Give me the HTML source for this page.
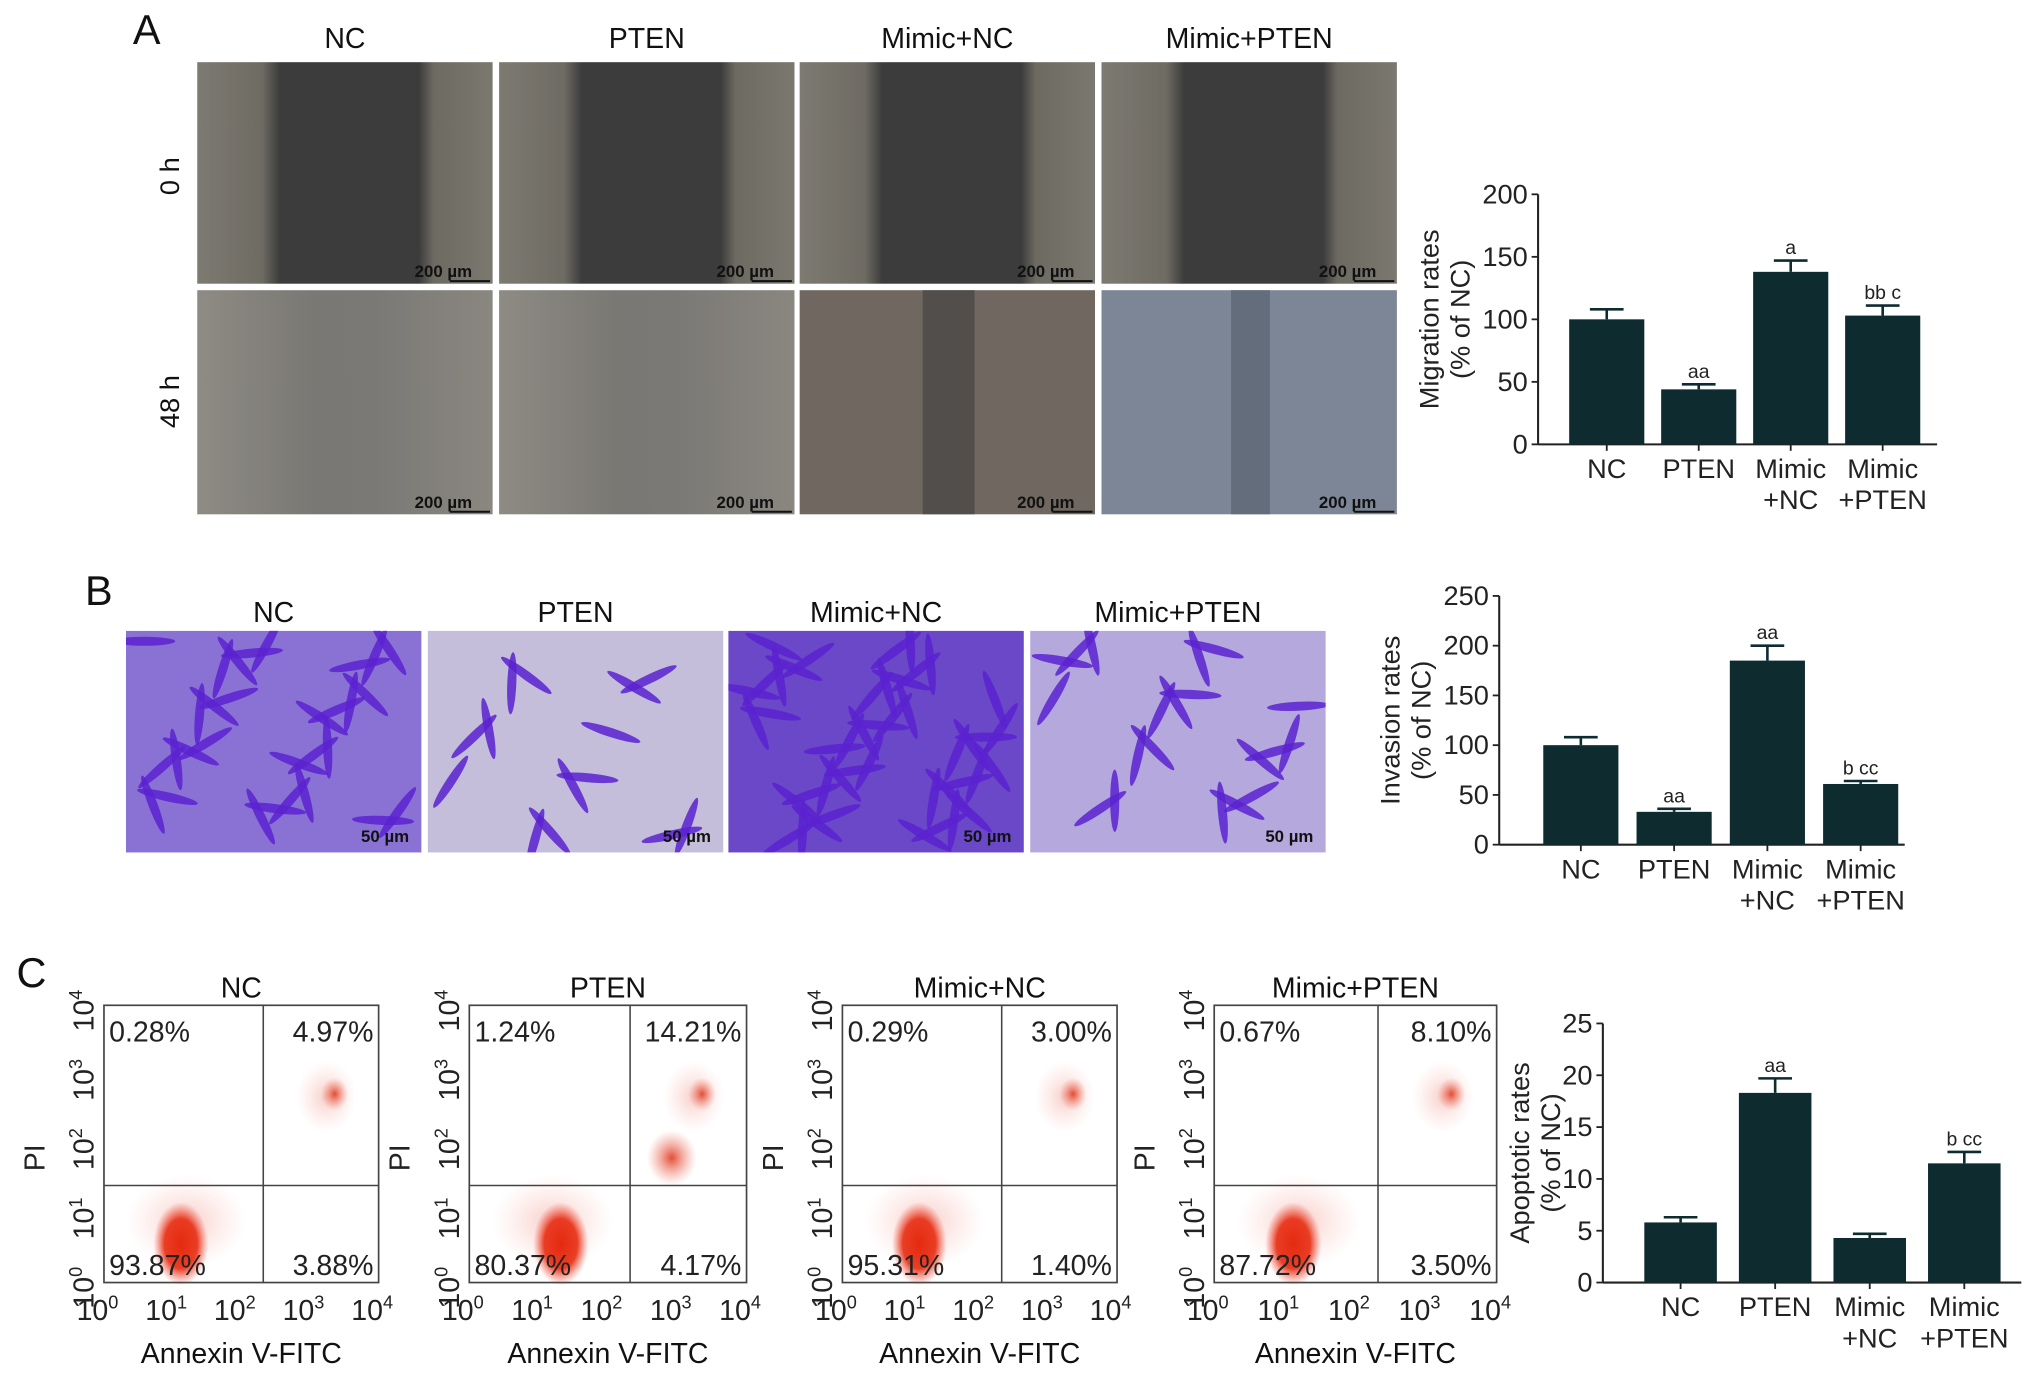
<!DOCTYPE html>
<html><head><meta charset="utf-8"><style>
html,body{margin:0;padding:0;background:#fff;}
svg{display:block;font-family:"Liberation Sans",Arial,sans-serif;}
</style></head><body>
<svg id="fig" width="2032" height="1381" viewBox="0 0 1568 1066" xmlns="http://www.w3.org/2000/svg">
<defs id="defs">
<linearGradient id="g0h" x1="0" x2="1" y1="0" y2="0">
<stop offset="0" stop-color="#7d7a72"/><stop offset="0.22" stop-color="#6e6b63"/><stop offset="0.28" stop-color="#3c3c3c"/><stop offset="0.75" stop-color="#3c3c3c"/><stop offset="0.8" stop-color="#6d6a62"/><stop offset="1" stop-color="#7b786f"/></linearGradient>
<linearGradient id="g48" x1="0" x2="1" y1="0" y2="0">
<stop offset="0" stop-color="#8e8b84"/><stop offset="0.4" stop-color="#7a7874"/><stop offset="0.6" stop-color="#7b7976"/><stop offset="1" stop-color="#8a8780"/></linearGradient>
<radialGradient id="clu" cx="0.5" cy="0.5" r="0.5"><stop offset="0" stop-color="#e42a10"/><stop offset="0.6" stop-color="#e8341a" stop-opacity="0.95"/><stop offset="1" stop-color="#f06050" stop-opacity="0"/></radialGradient>
<radialGradient id="clu2" cx="0.5" cy="0.5" r="0.5"><stop offset="0" stop-color="#e03a20" stop-opacity="0.9"/><stop offset="1" stop-color="#f08070" stop-opacity="0"/></radialGradient>
<radialGradient id="haze" cx="0.5" cy="0.5" r="0.5"><stop offset="0" stop-color="#f09a90" stop-opacity="0.5"/><stop offset="1" stop-color="#f8c0b8" stop-opacity="0"/></radialGradient>
</defs>
<g id="panelA"></g>
<g id="panelB"></g>
<g id="panelC"></g>
</svg>
<script>
const NS="http://www.w3.org/2000/svg";
const groups=["NC","PTEN","Mimic+NC","Mimic+PTEN"];
const catLine1=["NC","PTEN","Mimic","Mimic"];
const catLine2=["","","+NC","+PTEN"];
// Migration (A)
const migValues=[100,44,138,103];
const migErr=[8,4,9,8];
const migSig=["","aa","a","bb c"];
const migTicks=[0,50,100,150,200];
// Invasion (B)
const invValues=[100,33,185,61];
const invErr=[8,3,15,3];
const invSig=["","aa","aa","b cc"];
const invTicks=[0,50,100,150,200,250];
// Apoptosis (C)
const apoValues=[5.8,18.3,4.3,11.5];
const apoErr=[0.5,1.4,0.4,1.1];
const apoSig=["","aa","","b cc"];
const apoTicks=[0,5,10,15,20,25];
// Flow quadrant percentages [UL,UR,LL,LR]
const flowUL=["0.28%","1.24%","0.29%","0.67%"];
const flowUR=["4.97%","14.21%","3.00%","8.10%"];
const flowLL=["93.87%","80.37%","95.31%","87.72%"];
const flowLR=["3.88%","4.17%","1.40%","3.50%"];

function el(tag,attrs,parent,text){const e=document.createElementNS(NS,tag);for(const k in attrs)e.setAttribute(k,attrs[k]);if(text!==undefined)e.textContent=text;parent.appendChild(e);return e;}

function barChart(parent,name,o){
  const g=el("g",{},parent);
  
  
  const max=o.ticks[o.ticks.length-1];
  const y=v=>o.y0-(v/max)*(o.y0-o.yTop);
  const x=i=>o.x0+o.first+i*o.step;
  el("line",{x1:o.x0,y1:o.yTop,x2:o.x0,y2:o.y0,stroke:"#222","stroke-width":1.6},g);
  el("line",{x1:o.x0,y1:o.y0,x2:o.x1,y2:o.y0,stroke:"#222","stroke-width":1.6},g);
  o.ticks.forEach(t=>{
    const l=el("line",{x1:o.x0-5,y1:y(t),x2:o.x0,y2:y(t),stroke:"#222","stroke-width":1.4},g);
    
    const tx=el("text",{x:o.x0-8,y:y(t)+7,"text-anchor":"end","font-size":21,fill:"#222"},g,String(t));
    
    
  });
  o.values.forEach((v,i)=>{
    const cx=x(i);
    const r=el("rect",{x:cx-o.bw/2,y:y(v),width:o.bw,height:o.y0-y(v),fill:"#0e2b30"},g);
    
    
    const ey=y(v+o.err[i]);
    el("line",{x1:cx,y1:y(v),x2:cx,y2:ey,stroke:"#0e2b30","stroke-width":2},g);
    el("line",{x1:cx-13,y1:ey,x2:cx+13,y2:ey,stroke:"#0e2b30","stroke-width":2},g);
    if(o.sig[i]){const s=el("text",{x:cx,y:ey-5,"text-anchor":"middle","font-size":15,fill:"#222"},g,o.sig[i]);}
    el("line",{x1:cx,y1:o.y0,x2:cx,y2:o.y0+5,stroke:"#222","stroke-width":1.4},g);
    const t1=el("text",{x:cx,y:o.y0+26,"text-anchor":"middle","font-size":21,fill:"#222"},g,catLine1[i]);
    
    
    if(catLine2[i]){const t2=el("text",{x:cx,y:o.y0+50,"text-anchor":"middle","font-size":21,fill:"#222"},g,catLine2[i]);}
  });
  const my=(o.y0+o.yTop)/2;
  const a=el("text",{x:o.titleX,y:my,"text-anchor":"middle","font-size":21,fill:"#222",transform:`rotate(-90 ${o.titleX} ${my})`},g,o.title);
  
  
  const b=el("text",{x:o.titleX+24,y:my,"text-anchor":"middle","font-size":21,fill:"#222",transform:`rotate(-90 ${o.titleX+24} ${my})`},g,"(% of NC)");
  
  
}

function label(parent,x,y,txt,size,name){const t=el("text",{x:x,y:y,"text-anchor":"middle","font-size":size,fill:"#111"},parent,txt);return t;}
function frac(v){return v-Math.floor(v);}

// Panel A
const A=document.getElementById("panelA");
label(A,113,34,"A",32,"panel-label-a");
const aX=[152,385,617,850];
groups.forEach((gname,i)=>{
  label(A,aX[i]+114,37,gname,22,"column-title");
  const r1=el("rect",{x:aX[i],y:48,width:228,height:171,fill:"url(#g0h)"},A);
  
  
  const r2=el("rect",{x:aX[i],y:224,width:228,height:173,fill:i==3?"#7c8696":(i==2?"#6f6760":"url(#g48)")},A);
  
  
  if(i>=2){const gap=el("rect",{x:aX[i]+(i==2?95:100),y:224,width:i==2?40:30,height:173,fill:i==2?"#4a4846":"#5c6676",opacity:0.8},A);}
  [48,224].forEach(yy=>{label(A,aX[i]+190,yy+(yy==48?166:168),"200 µm",13,"scale-bar-label").setAttribute('font-weight','bold');
   el("line",{x1:aX[i]+195,y1:yy+(yy==48?169:171),x2:aX[i]+226,y2:yy+(yy==48?169:171),stroke:"#111","stroke-width":1.5},A);});
});
[[136,"0 h"],[310,"48 h"]].forEach(([yy,t])=>{const tt=el("text",{x:138,y:yy,"text-anchor":"middle","font-size":21,fill:"#111",transform:`rotate(-90 138 ${yy})`},A,t);});
barChart(A,"migration-chart",{x0:1187,x1:1495,y0:343,yTop:150,first:53,step:71,bw:58,values:migValues,err:migErr,sig:migSig,ticks:migTicks,title:"Migration rates",titleX:1110});

// Panel B
const B=document.getElementById("panelB");
const defs=document.getElementById("defs");
label(B,76,467,"B",32,"panel-label-b");
const bX=[97,330,562,795];
const bFill=["#8a72d4","#c4bedb","#6a48c8","#b4a8dc"];
const streak=[30,14,45,20];
groups.forEach((gname,i)=>{
  label(B,bX[i]+114,480,gname,22,"column-title");
  const cp=el("clipPath",{id:"clipB"+i},defs);
  el("rect",{x:bX[i],y:487,width:228,height:171},cp);
  const r=el("rect",{x:bX[i],y:487,width:228,height:171,fill:bFill[i]},B);
  
  
  const sg=el("g",{"clip-path":`url(#clipB${i})`},B);
  
  for(let k=0;k<streak[i];k++){
    const px=bX[i]+14+frac(k*0.618+i*0.31)*200, py=495+frac(k*0.7549+i*0.17)*155, ang=frac(k*0.4142+i*0.2)*180;
    const s=el("ellipse",{cx:px,cy:py,rx:24,ry:3.5,fill:"#5a22d0",opacity:0.85,transform:`rotate(${ang} ${px} ${py})`},sg);
    
  }
  label(B,bX[i]+200,650,"50 µm",13,"scale-bar-label").setAttribute('font-weight','bold');
});
barChart(B,"invasion-chart",{x0:1157,x1:1470,y0:652,yTop:460,first:63,step:72,bw:58,values:invValues,err:invErr,sig:invSig,ticks:invTicks,title:"Invasion rates",titleX:1080});

// Panel C
const C=document.getElementById("panelC");
label(C,24,762,"C",32,"panel-label-c");
const cX=[80,362,650,937];
const cW=[212,214,212,218];
const supers=["0","1","2","3","4"];
groups.forEach((gname,i)=>{
  const x0=cX[i],w=cW[i],y0=776,h=214;
  const g=el("g",{},C);
  
  
  label(g,x0+w/2,770,gname,22,"plot-title");
  const qx=x0+w*0.58, qy=y0+h*0.65;
  el("ellipse",{cx:x0+w*0.3,cy:y0+h*0.78,rx:w*0.22,ry:h*0.17,fill:"url(#haze)"},g);
  el("ellipse",{cx:x0+w*(i==1?0.33:0.28),cy:y0+h*0.86,rx:w*0.1,ry:h*0.15,fill:"url(#clu)"},g);
  el("ellipse",{cx:x0+w*0.81,cy:y0+h*0.33,rx:w*0.11,ry:h*0.13,fill:"url(#haze)"},g);
  el("ellipse",{cx:x0+w*0.84,cy:y0+h*0.32,rx:w*0.05,ry:h*0.06,fill:"url(#clu2)"},g);
  if(i==1){el("ellipse",{cx:x0+w*0.73,cy:y0+h*0.55,rx:w*0.09,ry:h*0.1,fill:"url(#clu2)"},g);}
  el("rect",{x:x0,y:y0,width:w,height:h,fill:"none",stroke:"#444","stroke-width":1.3},g);
  el("line",{x1:qx,y1:y0,x2:qx,y2:y0+h,stroke:"#444","stroke-width":1.2},g);
  el("line",{x1:x0,y1:qy,x2:x0+w,y2:qy,stroke:"#444","stroke-width":1.2},g);
  const q=[[x0+4,y0+28,"start",flowUL[i]],[x0+w-4,y0+28,"end",flowUR[i]],[x0+4,y0+h-6,"start",flowLL[i]],[x0+w-4,y0+h-6,"end",flowLR[i]]];
  q.forEach(([xx,yy,an,t])=>{const tt=el("text",{x:xx,y:yy,"text-anchor":an,"font-size":22,fill:"#222"},g,t);});
  for(let k=0;k<5;k++){
    const tx=x0+k*w/4;
    const t=el("text",{x:tx-5,y:y0+h+29,"text-anchor":"middle","font-size":22,fill:"#222"},g);
    
    
    t.textContent="10";el("tspan",{dy:-9,"font-size":14},t,supers[k]);
    const ty=y0+h-k*h/4;
    const yt=el("text",{x:0,y:0,"text-anchor":"middle","font-size":22,fill:"#222",transform:`translate(${x0-8} ${ty+4}) rotate(-90)`},g);
    
    
    yt.textContent="10";el("tspan",{dy:-9,"font-size":14},yt,supers[k]);
  }
  label(g,x0+w/2,y0+h+62,"Annexin V-FITC",22,"x-axis-title");
  const pl=el("text",{x:0,y:0,"text-anchor":"middle","font-size":22,fill:"#222",transform:`translate(${x0-46} ${y0+h*0.55}) rotate(-90)`},g,"PI");
  
  
});
barChart(C,"apoptosis-chart",{x0:1237,x1:1560,y0:990,yTop:790,first:60,step:73,bw:56,values:apoValues,err:apoErr,sig:apoSig,ticks:apoTicks,title:"Apoptotic rates",titleX:1180});
</script>
</body></html>
